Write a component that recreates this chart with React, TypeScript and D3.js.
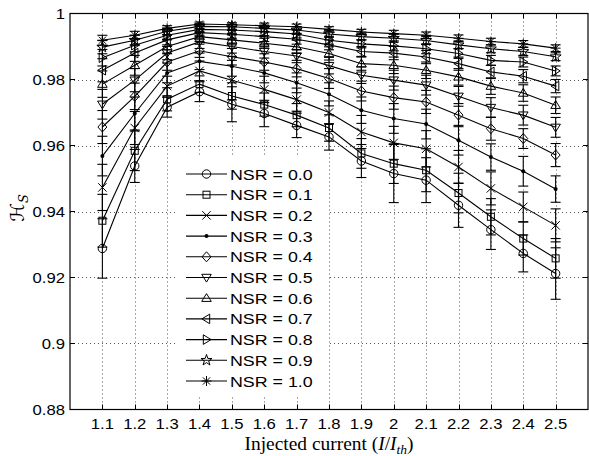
import React from 'react';
import * as d3 from 'd3';

const currents = [1.1, 1.2, 1.3, 1.4, 1.5, 1.6, 1.7, 1.8, 1.9, 2.0, 2.1, 2.2, 2.3, 2.4, 2.5];
const xTickLabels = ['1.1', '1.2', '1.3', '1.4', '1.5', '1.6', '1.7', '1.8', '1.9', '2', '2.1', '2.2', '2.3', '2.4', '2.5'];
const yTicks = [0.88, 0.9, 0.92, 0.94, 0.96, 0.98, 1];
const yTickLabels = ['0.88', '0.9', '0.92', '0.94', '0.96', '0.98', '1'];

const nsrLabels = ['NSR = 0.0', 'NSR = 0.1', 'NSR = 0.2', 'NSR = 0.3', 'NSR = 0.4', 'NSR = 0.5', 'NSR = 0.6', 'NSR = 0.7', 'NSR = 0.8', 'NSR = 0.9', 'NSR = 1.0'];
const markerTypes = ['circle', 'square', 'x', 'dot', 'diamond', 'tridown', 'triup', 'trileft', 'triright', 'pentagram', 'asterisk'];

const hs00 = [0.9288, 0.9538, 0.9716, 0.9763, 0.9725, 0.9697, 0.9661, 0.9626, 0.9553, 0.9515, 0.9495, 0.9419, 0.9345, 0.9273, 0.9212];
const hs01 = [0.9372, 0.9584, 0.9740, 0.9786, 0.9750, 0.9724, 0.9692, 0.9653, 0.9576, 0.9545, 0.9525, 0.9456, 0.9384, 0.9318, 0.9258];
const hs02 = [0.9473, 0.9653, 0.9780, 0.9826, 0.9798, 0.9770, 0.9739, 0.9700, 0.9641, 0.9608, 0.9590, 0.9535, 0.9470, 0.9414, 0.9358];
const hs03 = [0.9568, 0.9697, 0.9820, 0.9855, 0.9840, 0.9820, 0.9790, 0.9755, 0.9707, 0.9682, 0.9665, 0.9616, 0.9565, 0.9522, 0.9468];
const hs04 = [0.9656, 0.9749, 0.9853, 0.9887, 0.9869, 0.9853, 0.9833, 0.9803, 0.9765, 0.9745, 0.9732, 0.9692, 0.9651, 0.9621, 0.9571];
const hs05 = [0.9725, 0.9798, 0.9880, 0.9914, 0.9900, 0.9885, 0.9871, 0.9842, 0.9813, 0.9798, 0.9783, 0.9749, 0.9715, 0.9692, 0.9655];
const hs06 = [0.9786, 0.9843, 0.9900, 0.9930, 0.9920, 0.9910, 0.9899, 0.9879, 0.9848, 0.9843, 0.9828, 0.9808, 0.9780, 0.9759, 0.9722];
const hs07 = [0.9828, 0.9880, 0.9920, 0.9942, 0.9937, 0.9930, 0.9922, 0.9905, 0.9885, 0.9880, 0.9868, 0.9848, 0.9823, 0.9810, 0.9780];
const hs08 = [0.9866, 0.9904, 0.9934, 0.9952, 0.9950, 0.9945, 0.9938, 0.9919, 0.9908, 0.9902, 0.9893, 0.9879, 0.9858, 0.9853, 0.9826];
const hs09 = [0.9898, 0.9919, 0.9946, 0.9961, 0.9960, 0.9955, 0.9950, 0.9938, 0.9930, 0.9925, 0.9918, 0.9905, 0.9893, 0.9885, 0.9869];
const hs10 = [0.9919, 0.9934, 0.9955, 0.9968, 0.9966, 0.9963, 0.9960, 0.9952, 0.9944, 0.9939, 0.9934, 0.9925, 0.9915, 0.9908, 0.9895];

const err00 = [0.0090, 0.0050, 0.0030, 0.0030, 0.0053, 0.0040, 0.0037, 0.0040, 0.0050, 0.0088, 0.0068, 0.0067, 0.0060, 0.0056, 0.0078];
const err01 = [0.0080, 0.0060, 0.0035, 0.0025, 0.0040, 0.0035, 0.0035, 0.0040, 0.0045, 0.0060, 0.0065, 0.0060, 0.0055, 0.0050, 0.0060];
const err02 = [0.0070, 0.0050, 0.0030, 0.0030, 0.0060, 0.0040, 0.0035, 0.0035, 0.0050, 0.0050, 0.0055, 0.0050, 0.0050, 0.0045, 0.0050];
const err03 = [0.0060, 0.0050, 0.0030, 0.0025, 0.0030, 0.0030, 0.0030, 0.0035, 0.0040, 0.0045, 0.0045, 0.0045, 0.0040, 0.0045, 0.0040];
const err04 = [0.0050, 0.0040, 0.0025, 0.0020, 0.0025, 0.0025, 0.0025, 0.0030, 0.0030, 0.0035, 0.0035, 0.0035, 0.0035, 0.0030, 0.0035];
const err05 = [0.0045, 0.0035, 0.0020, 0.0020, 0.0020, 0.0020, 0.0020, 0.0025, 0.0025, 0.0030, 0.0030, 0.0030, 0.0030, 0.0030, 0.0030];
const err06 = [0.0040, 0.0030, 0.0020, 0.0015, 0.0015, 0.0015, 0.0020, 0.0020, 0.0020, 0.0025, 0.0025, 0.0025, 0.0025, 0.0025, 0.0025];
const err07 = [0.0035, 0.0025, 0.0015, 0.0012, 0.0012, 0.0015, 0.0015, 0.0015, 0.0015, 0.0020, 0.0020, 0.0020, 0.0020, 0.0020, 0.0020];
const err08 = [0.0025, 0.0020, 0.0012, 0.0010, 0.0010, 0.0012, 0.0012, 0.0012, 0.0012, 0.0015, 0.0015, 0.0015, 0.0015, 0.0015, 0.0015];
const err09 = [0.0020, 0.0015, 0.0010, 0.0008, 0.0008, 0.0010, 0.0010, 0.0010, 0.0010, 0.0012, 0.0012, 0.0012, 0.0012, 0.0012, 0.0012];
const err10 = [0.0015, 0.0012, 0.0008, 0.0006, 0.0006, 0.0008, 0.0008, 0.0008, 0.0008, 0.0010, 0.0010, 0.0010, 0.0010, 0.0010, 0.0010];

const seriesValues = [hs00, hs01, hs02, hs03, hs04, hs05, hs06, hs07, hs08, hs09, hs10];
const seriesErrors = [err00, err01, err02, err03, err04, err05, err06, err07, err08, err09, err10];

const W = 589;
const H = 456;
const L = 70, R = 588, T = 13.5, B = 409.5;
const SANS = 'Liberation Sans, Arial, Helvetica, sans-serif';
const SX = 1.15;

function starPath(ro: number, ri: number) {
  const pts: string[] = [];
  for (let i = 0; i < 10; i++) {
    const a = -Math.PI / 2 + (i * Math.PI) / 5;
    const r = i % 2 === 0 ? ro : ri;
    pts.push(`${(r * Math.cos(a)).toFixed(2)},${(r * Math.sin(a)).toFixed(2)}`);
  }
  return 'M' + pts.join('L') + 'Z';
}

function Marker({ type, x, y }: { type: string; x: number; y: number }) {
  const common = { stroke: '#000', strokeWidth: 1, fill: 'none' } as any;
  const t = `translate(${x},${y})`;
  switch (type) {
    case 'circle':
      return <circle cx={x} cy={y} r={4.2} {...common} />;
    case 'square':
      return <rect x={x - 3.5} y={y - 3.5} width={7} height={7} {...common} />;
    case 'x':
      return <path transform={t} d="M-4.2,-4.2L4.2,4.2M-4.2,4.2L4.2,-4.2" {...common} />;
    case 'dot':
      return <circle cx={x} cy={y} r={2} fill="#000" />;
    case 'diamond':
      return <path transform={t} d="M0,-5L4.5,0L0,5L-4.5,0Z" {...common} />;
    case 'tridown':
      return <path transform={t} d="M-4.8,-3.2L4.8,-3.2L0,4.6Z" {...common} />;
    case 'triup':
      return <path transform={t} d="M-4.8,3.2L4.8,3.2L0,-4.6Z" {...common} />;
    case 'trileft':
      return <path transform={t} d="M3.2,-4.8L3.2,4.8L-4.6,0Z" {...common} />;
    case 'triright':
      return <path transform={t} d="M-3.2,-4.8L-3.2,4.8L4.6,0Z" {...common} />;
    case 'pentagram':
      return <path transform={t} d={starPath(5.8, 2.3)} {...common} />;
    case 'asterisk':
      return <path transform={t} d="M-5,0L5,0M0,-5L0,5M-3.6,-3.6L3.6,3.6M-3.6,3.6L3.6,-3.6" {...common} />;
    default:
      return null;
  }
}

function SText({ x, y, anchor, size, children, dy }: { x: number; y: number; anchor: string; size: number; children: any; dy?: string }) {
  return (
    <g transform={`translate(${x},${y}) scale(${SX},1)`}>
      <text x={0} y={0} dy={dy} textAnchor={anchor as any} fontFamily={SANS} fontSize={size} fill="#000">{children}</text>
    </g>
  );
}

export default function App() {
  const x = d3.scaleLinear().domain([1.0, 2.6]).range([L, R]);
  const y = d3.scaleLinear().domain([0.88, 1]).range([B, T]);
  const line = d3.line<number>().x((_, i) => x(currents[i])).y((d) => y(d));

  const legendX0 = 178, legendY0 = 157, legendW = 150, legendH = 238;
  const rowY = (i: number) => 174 + i * 20.7;

  return (
    <svg width={W} height={H} style={{ position: 'absolute', left: 0, top: 0, background: '#fff' }}>
      <rect x={0} y={0} width={W} height={H} fill="#fff" />
      <g stroke="#555" strokeWidth={1} strokeDasharray="1,3">
        {currents.map((c, i) => (
          <line key={'gx' + i} x1={Math.round(x(c)) + 0.5} x2={Math.round(x(c)) + 0.5} y1={T} y2={B} />
        ))}
        {yTicks.slice(1, -1).map((v, i) => (
          <line key={'gy' + i} x1={L} x2={R} y1={Math.round(y(v)) + 0.5} y2={Math.round(y(v)) + 0.5} />
        ))}
      </g>
      {seriesValues.map((vals, si) => (
        <g key={'s' + si}>
          <path d={line(vals) || ''} fill="none" stroke="#000" strokeWidth={1.1} />
          {vals.map((v, i) => {
            const cx = x(currents[i]);
            const e = seriesErrors[si][i];
            const y1 = y(v - e), y2 = y(v + e);
            return (
              <g key={'e' + i} stroke="#000" strokeWidth={1.1}>
                <line x1={cx} x2={cx} y1={y1} y2={y2} />
                <line x1={cx - 5} x2={cx + 5} y1={y1} y2={y1} />
                <line x1={cx - 5} x2={cx + 5} y1={y2} y2={y2} />
              </g>
            );
          })}
          {vals.map((v, i) => (
            <Marker key={'m' + i} type={markerTypes[si]} x={x(currents[i])} y={y(v)} />
          ))}
        </g>
      ))}
      <rect x={legendX0} y={legendY0} width={legendW} height={legendH} fill="#fff" />
      {nsrLabels.map((lab, i) => (
        <g key={'lg' + i}>
          <line x1={186} x2={227} y1={rowY(i)} y2={rowY(i)} stroke="#000" strokeWidth={1.1} />
          <Marker type={markerTypes[i]} x={206.5} y={rowY(i)} />
          <SText x={230} y={rowY(i)} dy="0.36em" anchor="start" size={15.5}>{lab}</SText>
        </g>
      ))}
      <rect x={L} y={T} width={R - L} height={B - T} fill="none" stroke="#000" strokeWidth={1.2} />
      <g stroke="#000" strokeWidth={1}>
        {currents.map((c, i) => (
          <g key={'tx' + i}>
            <line x1={Math.round(x(c)) + 0.5} x2={Math.round(x(c)) + 0.5} y1={B} y2={B - 5} />
            <line x1={Math.round(x(c)) + 0.5} x2={Math.round(x(c)) + 0.5} y1={T} y2={T + 5} />
          </g>
        ))}
        {yTicks.map((v, i) => (
          <g key={'ty' + i}>
            <line x1={L} x2={L + 5} y1={y(v)} y2={y(v)} />
            <line x1={R} x2={R - 5} y1={y(v)} y2={y(v)} />
          </g>
        ))}
      </g>
      {currents.map((c, i) => (
        <SText key={'lx' + i} x={x(c)} y={429} anchor="middle" size={14.5}>{xTickLabels[i]}</SText>
      ))}
      {yTicks.map((v, i) => (
        <SText key={'ly' + i} x={65} y={y(v)} dy="0.36em" anchor="end" size={14.5}>{yTickLabels[i]}</SText>
      ))}
      <g transform={`translate(${(L + R) / 2},450) scale(1.08,1)`}>
        <text x={0} y={0} textAnchor="middle" fontFamily="Liberation Serif, Times New Roman, serif" fontSize={18} fill="#000">
          Injected current (<tspan fontStyle="italic">I</tspan>/<tspan fontStyle="italic">I</tspan><tspan fontStyle="italic" fontSize={12.5} dy={3.5}>th</tspan><tspan dy={-3.5}>)</tspan>
        </text>
      </g>
      <g transform={`translate(24,${208}) rotate(-90)`}>
        <text x={0} y={0} textAnchor="middle" fontFamily="DejaVu Serif, DejaVu Sans, serif" fontSize={19} fill="#000">
          ℋ<tspan fontStyle="italic" fontSize={13} dy={4}>S</tspan>
        </text>
      </g>
    </svg>
  );
}
